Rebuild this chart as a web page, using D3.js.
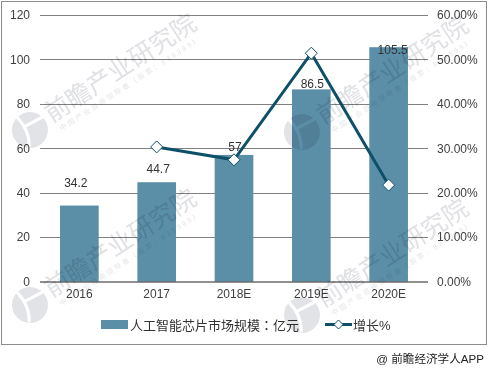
<!DOCTYPE html>
<html>
<head>
<meta charset="utf-8">
<script src="https://cdn.jsdelivr.net/npm/d3@7"></script>
<style>
html, body { margin: 0; padding: 0; background: #fff; }
text { font-family: "Liberation Sans", "Noto Sans CJK SC", sans-serif; }
</style>
</head>
<body>
<div id="chart"></div>
<script>
var years = ["2016", "2017", "2018E", "2019E", "2020E"];
var market = [34.2, 44.7, 57, 86.5, 105.5];
var growth = [null, 30.3, 27.4, 51.4, 21.7];
var leftTicks = [0, 20, 40, 60, 80, 100, 120];
var rightTicks = [0, 10, 20, 30, 40, 50, 60];
var marketName = ["人工智能芯片市场规模", "：", "亿元"];
var growthName = "增长%";
var credit = "@ 前瞻经济学人APP";
var stamp = "前瞻产业研究院";
var stampSub = "中国产业咨询领导者（股票：839399）";

var margin = {left: 40, right: 62, top: 15, bottom: 88.5};
var width = 490 - margin.left - margin.right,
    height = 370 - margin.top - margin.bottom;

var svg = d3.select("#chart").append("svg")
    .attr("width", 490)
    .attr("height", 370)
    .style("display", "block");

// outer frame
svg.append("rect")
    .attr("x", 1.5).attr("y", 1.5)
    .attr("width", 485).attr("height", 343)
    .attr("fill", "#fff")
    .attr("stroke", "#8c8c8c")
    .attr("stroke-width", 1);

var g = svg.append("g")
    .attr("transform", "translate(" + margin.left + "," + margin.top + ")");

var x = d3.scaleBand().domain(years).range([0.7, 387.3]).paddingInner(0.5).paddingOuter(0.25);
var y = d3.scaleLinear().domain([0, 120]).range([height, 0]);
var y2 = d3.scaleLinear().domain([0, 60]).range([height, 0]);

function mid(i) { return x(years[i]) + x.bandwidth() / 2; }

// grid lines
g.selectAll("line.grid")
    .data(leftTicks.slice(1))
    .enter().append("line")
    .attr("class", "grid")
    .attr("x1", 0)
    .attr("x2", width)
    .attr("y1", function(d) { return Math.round(y(d)) + 0.5; })
    .attr("y2", function(d) { return Math.round(y(d)) + 0.5; })
    .attr("stroke", "#808080");

// bars
g.selectAll("rect.bar")
    .data(market)
    .enter().append("rect")
    .attr("class", "bar")
    .attr("x", function(d, i) { return x(years[i]); })
    .attr("width", x.bandwidth())
    .attr("y", function(d) { return y(d); })
    .attr("height", function(d) { return height - y(d); })
    .attr("fill", "#5b8fa8");

// baseline
g.append("line")
    .attr("x1", 0).attr("x2", width)
    .attr("y1", height + 0.5).attr("y2", height + 0.5)
    .attr("stroke", "#222");

// axes, text only
var axisLeft = g.append("g")
    .call(d3.axisLeft(y).tickValues(leftTicks).tickSize(0).tickPadding(10));
var axisRight = g.append("g")
    .attr("transform", "translate(" + width + ",0)")
    .call(d3.axisRight(y2).tickValues(rightTicks).tickSize(0).tickPadding(9)
        .tickFormat(function(d) { return d.toFixed(2) + "%"; }));
var axisBottom = g.append("g")
    .attr("transform", "translate(0," + height + ")")
    .call(d3.axisBottom(x).tickSize(0).tickPadding(8));
[axisLeft, axisRight, axisBottom].forEach(function(a) {
    a.select(".domain").remove();
    a.selectAll("text").attr("font-size", 12).attr("fill", "#404040")
        .style("font-family", '"Liberation Sans", sans-serif');
});

// value labels, hand placed in the original so each one has its own nudge
var labelNudgeX = [-3.5, 1.5, 1, 1, 4];
var labelNudgeY = [-19, -9, -4, -1, 7];
g.selectAll("text.value")
    .data(market)
    .enter().append("text")
    .attr("class", "value")
    .attr("x", function(d, i) { return mid(i) + labelNudgeX[i]; })
    .attr("y", function(d, i) { return y(d) + labelNudgeY[i]; })
    .attr("text-anchor", "middle")
    .attr("font-size", 12)
    .attr("fill", "#333")
    .text(function(d) { return d; });

// growth line
var line = d3.line()
    .defined(function(d) { return d != null; })
    .x(function(d, i) { return mid(i); })
    .y(function(d) { return y2(d); });

g.append("path")
    .datum(growth)
    .attr("d", line)
    .attr("fill", "none")
    .attr("stroke", "#0e5068")
    .attr("stroke-width", 3);

g.selectAll("path.pt")
    .data(growth)
    .enter().filter(function(d) { return d != null; }).append("path")
    .attr("class", "pt")
    .attr("d", "M0,-6L6,0L0,6L-6,0Z")
    .attr("transform", function(d) {
        return "translate(" + mid(growth.indexOf(d)) + "," + y2(d) + ")";
    })
    .attr("fill", "#fff")
    .attr("stroke", "#0e5068")
    .attr("stroke-width", 1);

// legend
var legend = svg.append("g");
legend.append("rect")
    .attr("x", 101).attr("y", 320)
    .attr("width", 27).attr("height", 9)
    .attr("fill", "#5b8fa8");
var legendText = legend.append("text")
    .attr("x", 130).attr("y", 330)
    .attr("font-size", 13)
    .attr("fill", "#333");
marketName.forEach(function(s) {
    legendText.append("tspan")
        .style("font-family", s == "：" ? '"Noto Sans CJK TC"' : null)
        .text(s);
});
legend.append("line")
    .attr("x1", 325).attr("x2", 352)
    .attr("y1", 324.5).attr("y2", 324.5)
    .attr("stroke", "#0e5068")
    .attr("stroke-width", 3);
legend.append("path")
    .attr("d", "M0,-4.5L4.5,0L0,4.5L-4.5,0Z")
    .attr("transform", "translate(338.5,324.5)")
    .attr("fill", "#fff")
    .attr("stroke", "#0e5068");
legend.append("text")
    .attr("x", 353).attr("y", 330)
    .attr("font-size", 13)
    .attr("fill", "#333")
    .text(growthName);

// credit line
svg.append("text")
    .attr("x", 484).attr("y", 363)
    .attr("text-anchor", "end")
    .attr("font-size", 11.6)
    .attr("fill", "#222")
    .text(credit);

// watermark, multiplied so it darkens the bars too
var marks = svg.selectAll("g.stamp")
    .data([[30, 130], [302, 132], [30, 305], [302, 315]])
    .enter().append("g")
    .attr("class", "stamp")
    .attr("transform", function(d) { return "translate(" + d[0] + "," + d[1] + ") rotate(-33)"; })
    .style("mix-blend-mode", "multiply");
marks.append("circle")
    .attr("r", 18)
    .attr("fill", "#e2e3e6");
marks.append("path")
    .attr("d", "M-4,-18C-2,-8 -3,4 -10,14M-4,-6L18,-4")
    .attr("fill", "none")
    .attr("stroke", "#fff")
    .attr("stroke-width", 3);
marks.append("text")
    .attr("x", 22).attr("y", 6)
    .attr("font-size", 25)
    .attr("fill", "#e0e1e4")
    .text(stamp);
marks.append("text")
    .attr("x", 26).attr("y", 18)
    .attr("font-size", 7)
    .attr("fill", "#e4e5e8")
    .attr("textLength", 165)
    .attr("lengthAdjust", "spacing")
    .text(stampSub);
</script>
</body>
</html>
